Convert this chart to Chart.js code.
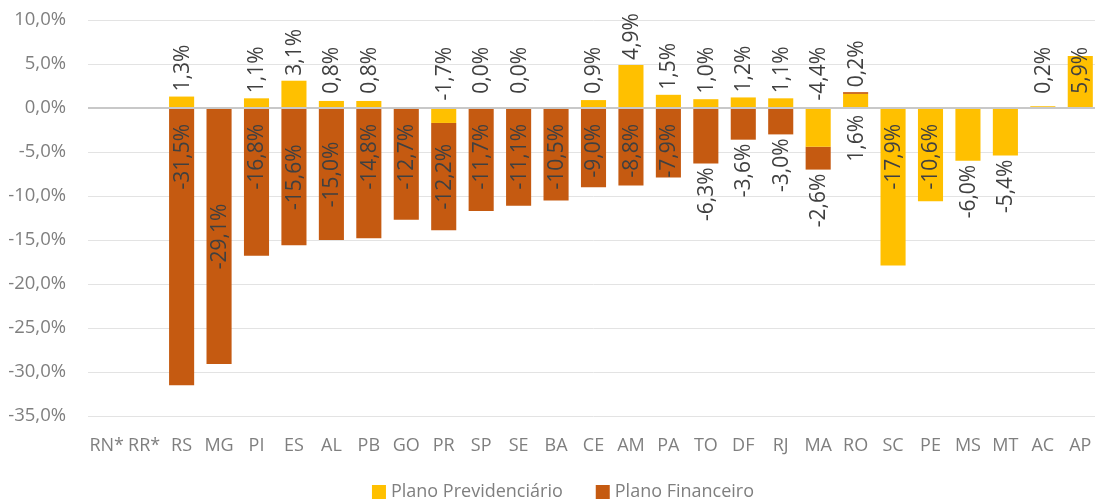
<!DOCTYPE html>
<html lang="pt-BR">
<head>
    <meta charset="UTF-8">
    <title>Plano Previdenciário x Plano Financeiro</title>
    <style>
        html, body {
            margin: 0;
            padding: 0;
            background: #ffffff;
            overflow: hidden;
        }
        canvas {
            display: block;
        }
    </style>
</head>
<body>
    <canvas id="chart" width="1099" height="502"></canvas>

    <script src="https://cdn.jsdelivr.net/npm/chart.js@4.4.0/dist/chart.umd.min.js"></script>
    <script>
        const categories = ['RN*', 'RR*', 'RS', 'MG', 'PI', 'ES', 'AL', 'PB', 'GO', 'PR', 'SP', 'SE', 'BA', 'CE',
            'AM', 'PA', 'TO', 'DF', 'RJ', 'MA', 'RO', 'SC', 'PE', 'MS', 'MT', 'AC', 'AP'];

        const planoPrevidenciario = [null, null, 1.3, null, 1.1, 3.1, 0.8, 0.8, null, -1.7, 0.0, 0.0, null, 0.9,
            4.9, 1.5, 1.0, 1.2, 1.1, -4.4, 1.6, -17.9, -10.6, -6.0, -5.4, 0.2, 5.9];

        const planoFinanceiro = [null, null, -31.5, -29.1, -16.8, -15.6, -15.0, -14.8, -12.7, -12.2, -11.7, -11.1, -10.5, -9.0,
            -8.8, -7.9, -6.3, -3.6, -3.0, -2.6, 0.2, null, null, null, null, null, null];

        const yMin = -35;
        const yMax = 10;
        const yStep = 5;

        // labels that sit in the middle of their bar instead of near the axis
        const centredLabels = ['MG', 'ES', 'AL', 'PR'];

        const fmt = (v) => v.toFixed(1).replace('.', ',') + '%';

        const labelColor = '#404040';
        const axisColor = '#7F7F7F';

        const barLabels = {
            id: 'barLabels',
            afterDatasetsDraw(chart) {
                const {ctx, scales: {y}} = chart;
                const zeroY = y.getPixelForValue(0);
                const topLine = zeroY - 61;
                const prevMeta = chart.getDatasetMeta(0);
                const finMeta = chart.getDatasetMeta(1);

                ctx.save();
                ctx.font = '21px "Open Sans"';
                ctx.fillStyle = labelColor;
                ctx.textAlign = 'left';
                ctx.textBaseline = 'middle';

                const put = (text, x, top) => {
                    const len = ctx.measureText(text).width;
                    ctx.save();
                    ctx.translate(x + 1, top + len);
                    ctx.rotate(-Math.PI / 2);
                    ctx.fillText(text, 0, 0);
                    ctx.restore();
                };

                // label for a segment that goes down from the axis
                const below = (el, text, cat) => {
                    const len = ctx.measureText(text).width;
                    const start = Math.min(el.y, el.base);
                    const end = Math.max(el.y, el.base);
                    let top;
                    if (centredLabels.includes(cat)) {
                        top = (start + end) / 2 - len / 2;
                    } else if (end - start >= len + 12) {
                        top = start + 15;
                    } else {
                        top = end + 4;
                    }
                    put(text, el.x, top);
                };

                categories.forEach((cat, i) => {
                    const pv = planoPrevidenciario[i];
                    const fv = planoFinanceiro[i];

                    if (pv !== null) {
                        const el = prevMeta.data[i];
                        const text = fmt(pv);
                        const len = ctx.measureText(text).width;
                        if (pv >= 0 && fv !== null && fv > 0) {
                            put(text, el.x, zeroY + 7);
                        } else if (pv >= 0) {
                            const h = el.base - el.y;
                            if (h > len + 4) {
                                put(text, el.x, topLine);
                            } else {
                                put(text, el.x, Math.min(topLine, el.y - 5 - len));
                            }
                        } else if (fv !== null && fv < 0) {
                            put(text, el.x, topLine);
                        } else {
                            below(el, text, cat);
                        }
                    }

                    if (fv !== null) {
                        const el = finMeta.data[i];
                        const text = fmt(fv);
                        const len = ctx.measureText(text).width;
                        if (fv > 0) {
                            put(text, el.x, el.y - 5 - len);
                        } else {
                            below(el, text, cat);
                        }
                    }
                });

                ctx.restore();
            }
        };

        // simple legend drawn under the axis
        const bottomLegend = {
            id: 'bottomLegend',
            afterDraw(chart) {
                const {ctx} = chart;
                const items = chart.data.datasets.map(ds => ({text: ds.label, color: ds.backgroundColor}));
                const box = 14, gap = 5, itemGap = 33;
                const cy = 492;

                ctx.save();
                ctx.font = '18px "Open Sans"';
                ctx.textBaseline = 'middle';
                ctx.textAlign = 'left';

                let total = 0;
                items.forEach((it, k) => {
                    total += box + gap + ctx.measureText(it.text).width;
                    if (k < items.length - 1) total += itemGap;
                });

                let x = 563 - total / 2;
                items.forEach(it => {
                    ctx.fillStyle = it.color;
                    ctx.fillRect(x, cy - box / 2, box, box);
                    x += box + gap;
                    ctx.fillStyle = axisColor;
                    ctx.fillText(it.text, x, cy);
                    x += ctx.measureText(it.text).width + itemGap;
                });
                ctx.restore();
            }
        };

        const chart = new Chart(document.getElementById('chart'), {
            type: 'bar',
            data: {
                labels: categories,
                datasets: [
                    {
                        label: 'Plano Previdenciário',
                        data: planoPrevidenciario,
                        backgroundColor: '#FFC000',
                        categoryPercentage: 1,
                        barPercentage: 0.67
                    },
                    {
                        label: 'Plano Financeiro',
                        data: planoFinanceiro,
                        backgroundColor: '#C55A11',
                        categoryPercentage: 1,
                        barPercentage: 0.67
                    }
                ]
            },
            options: {
                responsive: false,
                devicePixelRatio: 1,
                animation: false,
                layout: {
                    padding: {top: 20, left: 0, right: 0, bottom: 0}
                },
                plugins: {
                    legend: {display: false},
                    tooltip: {enabled: false}
                },
                scales: {
                    x: {
                        stacked: true,
                        grid: {display: false, drawTicks: false},
                        border: {display: false},
                        ticks: {
                            color: axisColor,
                            font: {family: 'Open Sans', size: 18},
                            padding: 19,
                            autoSkip: false,
                            maxRotation: 0
                        },
                        afterFit(scale) {
                            scale.height = 86;
                            scale.paddingLeft = 0;
                            scale.paddingRight = 0;
                        }
                    },
                    y: {
                        stacked: true,
                        min: yMin,
                        max: yMax,
                        border: {display: false},
                        grid: {
                            drawTicks: false,
                            color: (c) => c.tick && c.tick.value === 0 ? '#C8C8C8' : '#E3E3E3',
                            lineWidth: (c) => c.tick && c.tick.value === 0 ? 2 : 1
                        },
                        ticks: {
                            stepSize: yStep,
                            color: axisColor,
                            font: {family: 'Open Sans', size: 18.5},
                            padding: 22,
                            callback: (v) => fmt(v)
                        },
                        afterFit(scale) {
                            scale.width = 88;
                            scale.paddingTop = 0;
                            scale.paddingBottom = 0;
                        }
                    }
                }
            },
            plugins: [barLabels, bottomLegend]
        });
    </script>
</body>
</html>
